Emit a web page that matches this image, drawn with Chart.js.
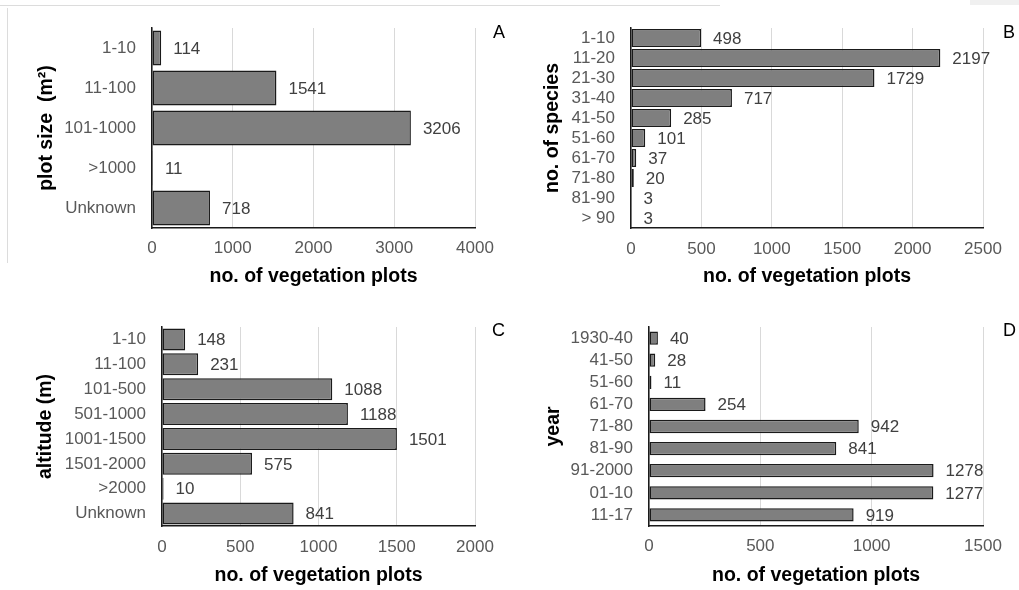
<!DOCTYPE html>
<html>
<head>
<meta charset="utf-8">
<script src="https://cdn.jsdelivr.net/npm/chart.js@4/dist/chart.umd.min.js"></script>
<style>
  html, body { margin: 0; padding: 0; background: #fff; }
  body { width: 1019px; height: 590px; position: relative; overflow: hidden; font-family: "Liberation Sans", Arial, sans-serif; }
  canvas { position: absolute; }
  .letter { position: absolute; font-size: 18px; line-height: 18px; color: #000; }
  .deco { position: absolute; }
</style>
</head>
<body>
<div class="deco" style="left:0;top:5px;width:720px;height:1px;background:#dcdcdc;"></div>
<div class="deco" style="left:7px;top:8px;width:1px;height:255px;background:#dcdcdc;"></div>
<div class="deco" style="left:970px;top:0;width:49px;height:5px;background:#f0f0f0;"></div>

<canvas id="cA" width="520" height="295" style="left:0;top:0;"></canvas>
<canvas id="cB" width="499" height="295" style="left:520px;top:0;"></canvas>
<canvas id="cC" width="520" height="290" style="left:0;top:300px;"></canvas>
<canvas id="cD" width="499" height="290" style="left:520px;top:300px;"></canvas>

<div class="letter" style="left:493px;top:23px;">A</div>
<div class="letter" style="left:1003px;top:23px;">B</div>
<div class="letter" style="left:492px;top:321px;">C</div>
<div class="letter" style="left:1003px;top:321px;">D</div>

<script>
// ---- data ----
const plotSizeCategories = ['1-10', '11-100', '101-1000', '>1000', 'Unknown'];
const plotSizeValues = [114, 1541, 3206, 11, 718];

const speciesCategories = ['1-10', '11-20', '21-30', '31-40', '41-50', '51-60', '61-70', '71-80', '81-90', '> 90'];
const speciesValues = [498, 2197, 1729, 717, 285, 101, 37, 20, 3, 3];

const altitudeCategories = ['1-10', '11-100', '101-500', '501-1000', '1001-1500', '1501-2000', '>2000', 'Unknown'];
const altitudeValues = [148, 231, 1088, 1188, 1501, 575, 10, 841];

const yearCategories = ['1930-40', '41-50', '51-60', '61-70', '71-80', '81-90', '91-2000', '01-10', '11-17'];
const yearValues = [40, 28, 11, 254, 942, 841, 1278, 1277, 919];

const xTitle = 'no. of vegetation plots';
const yTitles = ['plot size  (m\u00B2)', 'no. of species', 'altitude (m)', 'year'];
const xMaxes = [4000, 2500, 2000, 1500];
const xSteps = [1000, 500, 500, 500];

// ---- styling / layout ----
const FONT = '"Liberation Sans", Arial, sans-serif';

const valueLabels = {
  id: 'valueLabels',
  afterDatasetsDraw(chart) {
    const ctx = chart.ctx;
    ctx.save();
    ctx.font = '17px ' + FONT;
    ctx.fillStyle = '#404040';
    ctx.textAlign = 'left';
    ctx.textBaseline = 'middle';
    chart.data.datasets.forEach((ds, di) => {
      const meta = chart.getDatasetMeta(di);
      meta.data.forEach((el, i) => {
        ctx.fillText(String(ds.data[i]), el.x + 12, el.y + 1);
      });
    });
    ctx.restore();
  }
};

function makeChart(id, labels, values, yTitle, xMax, xStep, lay) {
  const ctx = document.getElementById(id).getContext('2d');
  return new Chart(ctx, {
    type: 'bar',
    data: {
      labels: labels,
      datasets: [{
        data: values,
        backgroundColor: '#7f7f7f',
        borderColor: '#1a1a1a',
        borderWidth: 1.5,
        borderSkipped: false,
        barPercentage: 1,
        categoryPercentage: lay.cat
      }]
    },
    options: {
      indexAxis: 'y',
      responsive: false,
      animation: false,
      devicePixelRatio: 1,
      layout: { padding: lay.pad },
      plugins: { legend: { display: false }, tooltip: { enabled: false } },
      scales: {
        x: {
          type: 'linear',
          min: 0,
          max: xMax,
          afterFit(scale) { scale.height = lay.xh; },
          ticks: {
            stepSize: xStep,
            autoSkip: false,
            maxRotation: 0,
            padding: lay.tp,
            color: '#595959',
            font: { family: FONT, size: 17 },
            callback: (v) => String(v)
          },
          grid: { color: '#d9d9d9', lineWidth: 1, drawTicks: false },
          border: { display: true, color: '#1a1a1a', width: 1.5 },
          title: {
            display: true,
            text: xTitle,
            color: '#000',
            padding: 0,
            font: { family: FONT, size: 19.5, weight: 'bold' }
          }
        },
        y: {
          afterFit(scale) { scale.width = lay.yw; },
          ticks: {
            autoSkip: false,
            padding: 16,
            color: '#595959',
            font: { family: FONT, size: 17 }
          },
          grid: { display: false, drawTicks: false },
          border: { display: true, color: '#1a1a1a', width: 1.5 },
          title: {
            display: true,
            text: yTitle,
            color: '#000',
            padding: 0,
            font: { family: FONT, size: 19.5, weight: 'bold' }
          }
        }
      }
    },
    plugins: [valueLabels]
  });
}

makeChart('cA', plotSizeCategories, plotSizeValues, yTitles[0], xMaxes[0], xSteps[0],
  { pad: { left: 35, top: 28, right: 45, bottom: 7 }, yw: 117, xh: 60, tp: 10, cat: 0.875 });
makeChart('cB', speciesCategories, speciesValues, yTitles[1], xMaxes[1], xSteps[1],
  { pad: { left: 21, top: 28, right: 36, bottom: 7 }, yw: 90, xh: 60, tp: 11, cat: 0.9 });
makeChart('cC', altitudeCategories, altitudeValues, yTitles[2], xMaxes[2], xSteps[2],
  { pad: { left: 34, top: 27, right: 45, bottom: 3 }, yw: 128, xh: 61, tp: 11, cat: 0.88 });
makeChart('cD', yearCategories, yearValues, yTitles[3], xMaxes[3], xSteps[3],
  { pad: { left: 22, top: 27, right: 36, bottom: 3 }, yw: 107, xh: 61, tp: 10, cat: 0.6 });
</script>
</body>
</html>
